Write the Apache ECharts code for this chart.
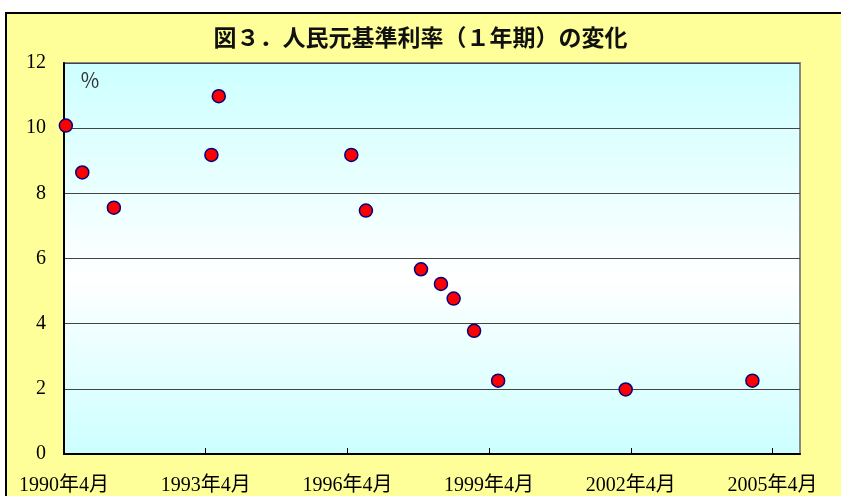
<!DOCTYPE html>
<html>
<head>
<meta charset="utf-8">
<script src="https://cdn.jsdelivr.net/npm/echarts@6/dist/echarts.min.js"></script>
<style>
    html, body { margin: 0; padding: 0; background: #fff; }
    #chart { width: 841px; height: 496px; }
</style>
</head>
<body>
<div id="chart"></div>
<script>
// 改定日と1年期基準利率(%)
const dates = ['1990-04-15', '1990-08-21', '1991-04-21', '1993-05-15', '1993-07-11',
    '1996-05-01', '1996-08-23', '1997-10-23', '1998-03-25', '1998-07-01',
    '1998-12-07', '1999-06-10', '2002-02-21', '2004-10-29'];
const rates = [10.08, 8.64, 7.56, 9.18, 10.98, 9.18, 7.47, 5.67, 5.22, 4.77, 3.78, 2.25, 1.98, 2.25];
const tickMonths = [0, 36, 72, 108, 144, 180];
const tickLabels = ['1990年4月', '1993年4月', '1996年4月', '1999年4月', '2002年4月', '2005年4月'];

// 1990年4月からの月数に直す
const toMonths = (s) => {
    const [y, m, d] = s.split('-').map(Number);
    const dim = new Date(y, m, 0).getDate();
    return (y - 1990) * 12 + (m - 4) + (d - 1) / dim;
};

const points = dates.map((d, i) => [toMonths(d), rates[i]]);

const serif = '"Liberation Serif", "Noto Sans CJK JP", serif';
const chart = echarts.init(document.getElementById('chart'));

chart.setOption({
    animation: false,
    backgroundColor: '#fff',
    graphic: [
        {
            type: 'rect', z: -10,
            shape: {x: 6, y: 13, width: 860, height: 500},
            style: {fill: '#FFFF99', stroke: '#000', lineWidth: 2}
        },
        {
            type: 'text', left: 80, top: 70, z: 10,
            style: {text: '％', font: '20px "Noto Sans CJK JP"', fill: '#333'}
        }
    ],
    title: {
        text: '図３．人民元基準利率（１年期）の変化',
        left: 'center',
        top: 21,
        textStyle: {
            fontFamily: '"Noto Sans CJK JP"',
            fontSize: 23,
            fontWeight: 'bold',
            color: '#111'
        }
    },
    grid: {
        left: 64, top: 63, right: 41, bottom: 40,
        show: true,
        borderColor: '#888',
        borderWidth: 2,
        backgroundColor: new echarts.graphic.LinearGradient(0, 0, 0, 1, [
            {offset: 0, color: '#CCFFFF'},
            {offset: 0.55, color: '#FFFFFF'},
            {offset: 1, color: '#CCFFFF'}
        ])
    },
    xAxis: {
        type: 'value',
        min: 0,
        max: 187,
        interval: 36,
        axisLine: {lineStyle: {color: '#000', width: 2}},
        axisTick: {inside: true, length: 6, customValues: tickMonths, lineStyle: {color: '#000'}},
        splitLine: {show: false},
        axisLabel: {
            customValues: tickMonths,
            margin: 22,
            fontFamily: serif,
            fontSize: 20,
            color: '#000',
            formatter: (v) => tickLabels[tickMonths.indexOf(v)] || ''
        }
    },
    yAxis: {
        type: 'value',
        min: 0,
        max: 12,
        interval: 2,
        axisLine: {show: true, lineStyle: {color: '#000', width: 2}},
        axisTick: {show: false},
        splitLine: {lineStyle: {color: '#444', width: 1}},
        axisLabel: {margin: 18, fontFamily: serif, fontSize: 20, color: '#000'}
    },
    series: [{
        type: 'scatter',
        data: points,
        symbolSize: 13,
        itemStyle: {color: '#FF0000', borderColor: '#000080', borderWidth: 1.5, opacity: 1}
    }]
});
</script>
</body>
</html>
